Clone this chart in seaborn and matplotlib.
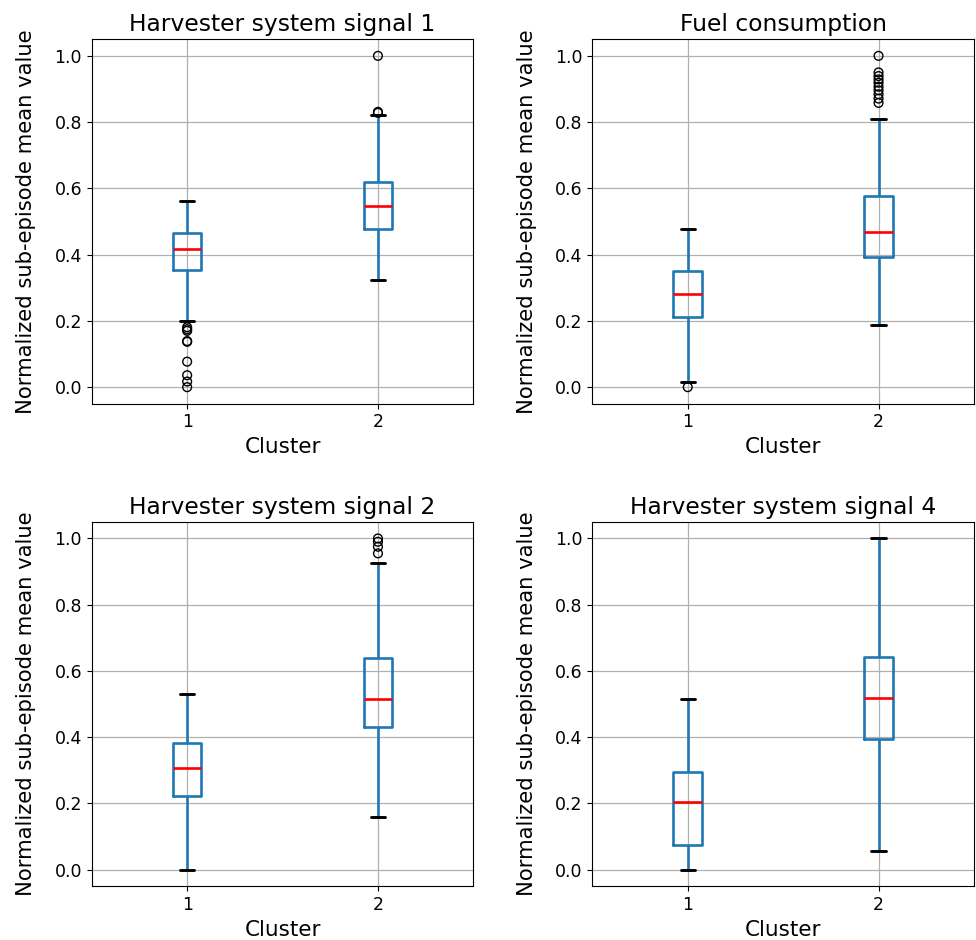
import matplotlib
matplotlib.use("Agg")
import matplotlib.pyplot as plt
import pandas as pd
import seaborn as sns

titles = ["Harvester system signal 1", "Fuel consumption",
          "Harvester system signal 2", "Harvester system signal 4"]
clusters = ["1", "2"]

# box summaries: [lower whisker, Q1, median, Q3, upper whisker]
sig1_c1 = [0.199, 0.354, 0.416, 0.464, 0.562]
sig1_c2 = [0.324, 0.478, 0.546, 0.618, 0.821]
fuel_c1 = [0.015, 0.212, 0.281, 0.352, 0.477]
fuel_c2 = [0.188, 0.392, 0.469, 0.577, 0.809]
sig2_c1 = [0.0, 0.222, 0.307, 0.383, 0.530]
sig2_c2 = [0.159, 0.431, 0.514, 0.638, 0.926]
sig4_c1 = [0.0, 0.076, 0.204, 0.294, 0.516]
sig4_c2 = [0.057, 0.395, 0.518, 0.643, 1.0]

# outliers
sig1_out_c1 = [0.181, 0.175, 0.170, 0.139, 0.137, 0.077, 0.036, 0.017, 0.0]
sig1_out_c2 = [0.831, 0.828, 1.0]
fuel_out_c1 = [0.0]
fuel_out_c2 = [1.0, 0.950, 0.939, 0.929, 0.919, 0.907, 0.896, 0.884, 0.871, 0.858]
sig2_out_c1 = []
sig2_out_c2 = [1.0, 0.990, 0.975, 0.955]
sig4_out_c1 = []
sig4_out_c2 = []

panels = [
    (sig1_c1, sig1_c2, sig1_out_c1, sig1_out_c2),
    (fuel_c1, fuel_c2, fuel_out_c1, fuel_out_c2),
    (sig2_c1, sig2_c2, sig2_out_c1, sig2_out_c2),
    (sig4_c1, sig4_c2, sig4_out_c1, sig4_out_c2),
]

sns.set_theme(style="ticks")
plt.rcParams["font.family"] = ["DejaVu Sans"]
plt.rcParams["text.color"] = "black"
plt.rcParams["axes.labelcolor"] = "black"
plt.rcParams["xtick.color"] = "black"
plt.rcParams["ytick.color"] = "black"

BLUE = "#1f77b4"
fig = plt.figure(figsize=(9.76, 9.4), dpi=100)
lefts = [0.094, 0.6069]
bottoms = [0.5705, 0.0571]
W, H = 0.391, 0.3877

for i, (title, (b1, b2, o1, o2)) in enumerate(zip(titles, panels)):
    ax = fig.add_axes([lefts[i % 2], bottoms[i // 2], W, H])
    box_df = pd.DataFrame({"Cluster": [clusters[0]] * len(b1) + [clusters[1]] * len(b2),
                           "value": list(b1) + list(b2)})
    out_df = pd.DataFrame({"Cluster": [clusters[0]] * len(o1) + [clusters[1]] * len(o2),
                           "value": list(o1) + list(o2)})
    sns.boxplot(data=box_df, x="Cluster", y="value", order=clusters, ax=ax,
                whis=(0, 100), width=0.15, fill=False, showfliers=False,
                linewidth=1.9, color=BLUE,
                boxprops=dict(color=BLUE, linewidth=1.9),
                whiskerprops=dict(color=BLUE, linewidth=1.9),
                capprops=dict(color="black", linewidth=2.1),
                medianprops=dict(color="red", linewidth=1.9))
    if len(out_df):
        sns.stripplot(data=out_df, x="Cluster", y="value", order=clusters, ax=ax,
                      jitter=False, marker="o", size=6.3, color="none",
                      edgecolor="black", linewidth=1.0, zorder=3)
    ax.set_xlim(-0.5, 1.5)
    ax.set_ylim(-0.05, 1.05)
    ax.set_yticks([0.0, 0.2, 0.4, 0.6, 0.8, 1.0])
    ax.grid(True, color="#b0b0b0", linewidth=0.9)
    ax.set_axisbelow(True)
    for s in ax.spines.values():
        s.set_color("black")
        s.set_linewidth(0.8)
        s.set_visible(True)
    ax.tick_params(axis="both", labelsize=12.5, length=3.5, width=0.8,
                   color="black", labelcolor="black")
    ax.set_title(title, fontsize=16.8, color="black")
    ax.set_xlabel("Cluster", fontsize=15.5, color="black")
    ax.set_ylabel("Normalized sub-episode mean value", fontsize=15.2,
                  color="black", labelpad=13)

fig.savefig("out.png", dpi=100, facecolor="white")
